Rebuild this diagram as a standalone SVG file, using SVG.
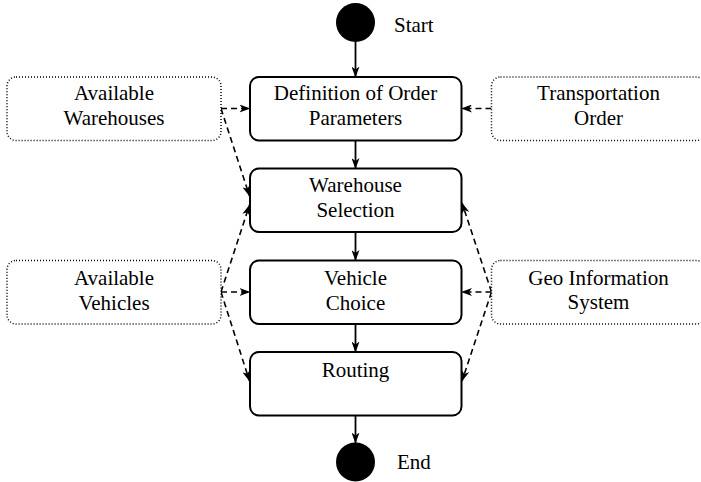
<svg xmlns="http://www.w3.org/2000/svg" width="701" height="482" viewBox="0 0 701 482">
<style>
text{font-family:'Liberation Serif','Times New Roman',Tinos,'DejaVu Serif',serif;font-size:21px;fill:#000;text-anchor:middle}
.act{fill:#fff;stroke:#000;stroke-width:2}
.obj{fill:#fff;stroke:#000;stroke-width:1.5;stroke-dasharray:1 2}
.flow{stroke:#000;stroke-width:1.8;fill:none;marker-end:url(#arr)}
.dep{stroke:#000;stroke-width:1.6;fill:none;stroke-dasharray:6 4;marker-end:url(#arr)}
</style>
<defs>
<marker id="arr" viewBox="0 0 11 8" refX="10.5" refY="4" markerWidth="11" markerHeight="8" orient="auto" markerUnits="userSpaceOnUse">
<path d="M0,0 L11,4 L0,8 L3,4 Z" fill="#000"/>
</marker>
</defs>
<rect width="701" height="482" fill="#fff"/>
<g id="connectors">
<line class="flow" x1="355.5" y1="42" x2="355.5" y2="77"/>
<line class="flow" x1="355.5" y1="140.5" x2="355.5" y2="168.5"/>
<line class="flow" x1="355.5" y1="232" x2="355.5" y2="260.5"/>
<line class="flow" x1="355.5" y1="324" x2="355.5" y2="352"/>
<line class="flow" x1="355.5" y1="415.5" x2="355.5" y2="443"/>
<line class="dep" x1="221" y1="108.5" x2="250" y2="108.5"/>
<line class="dep" x1="491.5" y1="108.5" x2="461.5" y2="108.5"/>
<line class="dep" x1="221" y1="108.5" x2="249.5" y2="196"/>
<line class="dep" x1="221" y1="292" x2="249.5" y2="205"/>
<line class="dep" x1="221" y1="292" x2="250" y2="292"/>
<line class="dep" x1="221" y1="292" x2="249.5" y2="381"/>
<line class="dep" x1="491.5" y1="292" x2="461.5" y2="292"/>
<line class="dep" x1="491.5" y1="292" x2="462" y2="203"/>
<line class="dep" x1="491.5" y1="292" x2="462" y2="381"/>
</g>
<g id="start">
<circle cx="355.5" cy="22.5" r="19.5" fill="#000"/>
<text x="394" y="32" font-family="Liberation Serif, serif" style="text-anchor:start">Start</text>
</g>
<g id="definition">
<rect class="act" x="250" y="77" width="211.5" height="63.5" rx="9"/>
<text x="355.5" y="100">Definition of Order</text>
<text x="355.5" y="125">Parameters</text>
</g>
<g id="warehouse">
<rect class="act" x="250" y="168.5" width="211.5" height="63.5" rx="9"/>
<text x="355.5" y="192">Warehouse</text>
<text x="355.5" y="217">Selection</text>
</g>
<g id="vehicle">
<rect class="act" x="250" y="260.5" width="211.5" height="63.5" rx="9"/>
<text x="355.5" y="285">Vehicle</text>
<text x="355.5" y="310">Choice</text>
</g>
<g id="routing">
<rect class="act" x="250" y="352" width="211.5" height="63.5" rx="9"/>
<text x="355.5" y="376.5">Routing</text>
</g>
<g id="end">
<circle cx="355.5" cy="462" r="19.5" fill="#000"/>
<text x="397" y="469" style="text-anchor:start">End</text>
</g>
<g id="avail-warehouses">
<rect class="obj" x="7" y="77" width="214" height="63.5" rx="9"/>
<text x="114" y="100">Available</text>
<text x="114" y="125">Warehouses</text>
</g>
<g id="transport-order">
<rect class="obj" x="491.5" y="77" width="214" height="63.5" rx="9"/>
<text x="598.5" y="100">Transportation</text>
<text x="598.5" y="125">Order</text>
</g>
<g id="avail-vehicles">
<rect class="obj" x="7" y="260.5" width="214" height="63.5" rx="9"/>
<text x="114" y="285">Available</text>
<text x="114" y="310">Vehicles</text>
</g>
<g id="geo-info">
<rect class="obj" x="491.5" y="260.5" width="214" height="63.5" rx="9"/>
<text x="598.5" y="284.5">Geo Information</text>
<text x="598.5" y="309">System</text>
</g>
</svg>
